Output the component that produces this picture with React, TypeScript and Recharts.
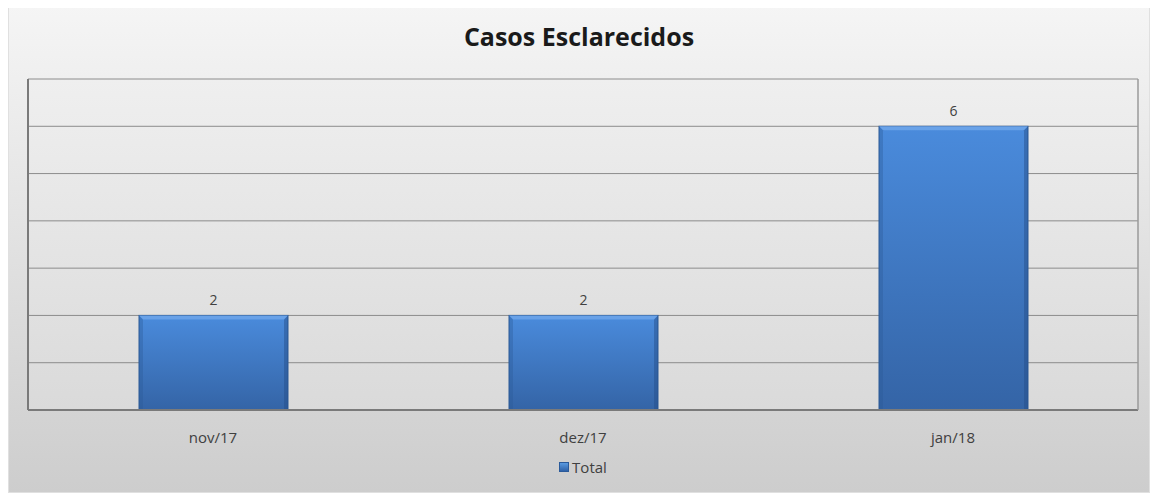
import React from "react";
import { BarChart, Bar, XAxis, YAxis, CartesianGrid, LabelList, Legend } from "recharts";

const categories = ["nov/17", "dez/17", "jan/18"];
const totals = [2, 2, 6];
const yTicks = [0, 1, 2, 3, 4, 5, 6, 7];
const seriesName = "Total";
const title = "Casos Esclarecidos";

const data = categories.map((c, i) => ({ month: c, total: totals[i] }));

const FONT = "'Open Sans', 'Liberation Sans', sans-serif";

const LegendContent = () => (
  <div style={{ paddingTop: 17, display: "flex", justifyContent: "center", alignItems: "center", fontFamily: FONT, fontSize: 15, color: "#404040" }}>
    <span style={{ display: "inline-block", width: 8, height: 8, background: "linear-gradient(#5a9ae0,#2f62a8)", border: "1px solid #2a5a9a", marginRight: 3 }} />
    <span>{seriesName}</span>
  </div>
);

const EmptyTick = () => <g />;

const BevelBar = (props: any) => {
  const { x, y, width, height } = props;
  if (!height || height <= 0) return null;
  const b = 4;
  return (
    <g>
      <rect x={x} y={y} width={width} height={height} fill="url(#barFill)" stroke="#2d5a96" strokeWidth={1} />
      <polygon points={`${x},${y} ${x + width},${y} ${x + width - b},${y + b} ${x + b},${y + b}`} fill="#6ea6ea" opacity={0.85} />
      <polygon points={`${x},${y} ${x + b},${y + b} ${x + b},${y + height} ${x},${y + height}`} fill="#2c5896" opacity={0.35} />
      <polygon points={`${x + width},${y} ${x + width - b},${y + b} ${x + width - b},${y + height} ${x + width},${y + height}`} fill="#244c86" opacity={0.45} />
    </g>
  );
};

export default function App() {
  return (
    <div style={{ marginTop: -3, width: 1142, height: 488, position: "relative", background: "linear-gradient(#f5f5f5, #cdcdcd)", border: "1px solid #e0e0e0", boxSizing: "border-box" }}>
      <div style={{ position: "absolute", top: 13, left: 0, width: "100%", textAlign: "center", fontFamily: FONT, fontWeight: 700, fontSize: 25, color: "#1a1a1a" }}>{title}</div>
      <BarChart width={1140} height={486} data={data} margin={{ top: 73, right: 10, bottom: 0, left: 18 }} barCategoryGap="30%">
        <defs>
          <linearGradient id="plotBg" x1="0" y1="0" x2="0" y2="1">
            <stop offset="0%" stopColor="#efefef" />
            <stop offset="100%" stopColor="#dadada" />
          </linearGradient>
          <linearGradient id="barFill" x1="0" y1="0" x2="0" y2="1">
            <stop offset="0%" stopColor="#4a8bdc" />
            <stop offset="100%" stopColor="#3464a6" />
          </linearGradient>
        </defs>
        <CartesianGrid vertical={false} stroke="#8c8c8c" fill="url(#plotBg)" />
        <XAxis dataKey="month" axisLine={{ stroke: "#7a7a7a", strokeWidth: 2 }} tickLine={false} tick={{ fontFamily: FONT, fontSize: 15, fill: "#404040" }} dy={14} />
        <YAxis domain={[0, 7]} ticks={yTicks} tick={<EmptyTick />} tickLine={false} width={1} axisLine={{ stroke: "#7a7a7a", strokeWidth: 2 }} />
        <YAxis yAxisId="r" orientation="right" domain={[0, 7]} ticks={yTicks} tick={<EmptyTick />} tickLine={false} width={1} axisLine={{ stroke: "#9a9a9a", strokeWidth: 1.5 }} />
        <Legend verticalAlign="bottom" height={52} content={<LegendContent />} />
        <Bar dataKey="total" name={seriesName} fill="url(#barFill)" isAnimationActive={false} barSize={149} shape={<BevelBar />}>
          <LabelList dataKey="total" position="top" offset={10} style={{ fontFamily: FONT, fontSize: 14, fill: "#404040" }} />
        </Bar>
      </BarChart>
    </div>
  );
}
